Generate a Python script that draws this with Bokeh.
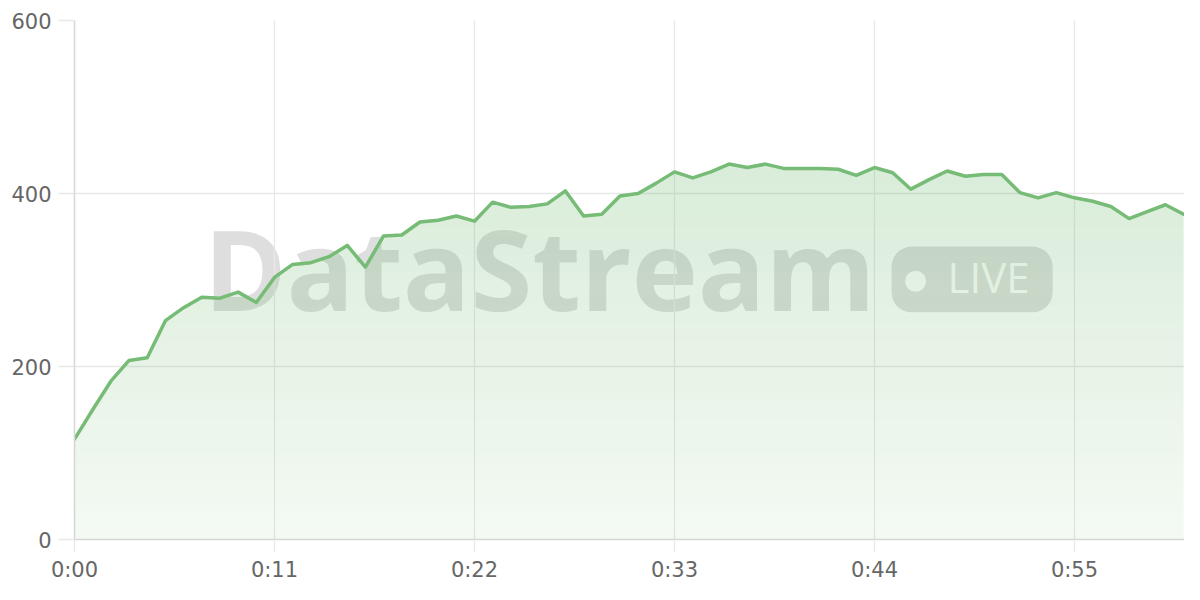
import numpy as np
from bokeh.plotting import figure
from bokeh.models import Range1d, FixedTicker, Label, BoxAnnotation
from bokeh.embed import file_html
from bokeh.resources import INLINE

# one sample per second
seconds = list(range(62))
viewers = [116, 150, 183, 207, 210, 253, 268, 280, 279, 286, 274, 303, 318, 320, 327, 340, 315, 351, 352, 367, 369, 374,
           368, 390, 384, 385, 388, 403, 374, 376, 397, 400, 412, 425, 418, 425, 434, 430, 434, 429, 429, 429,
           428, 421, 430, 424, 405, 416, 426, 420, 422, 422, 401, 395, 401, 395, 391, 385, 371, 379, 387, 376]

x_ticks = [0, 11, 22, 33, 44, 55]
x_labels = ["0:00", "0:11", "0:22", "0:33", "0:44", "0:55"]
y_ticks = [0, 200, 400, 600]

GREEN = "#76bc76"
GRID = "#e8e8e8"
TICK_FONT = "DejaVu Sans"

p = figure(
    width=1184, height=584,
    x_range=Range1d(0, 61.05), y_range=Range1d(0, 600),
    output_backend="svg", toolbar_location=None,
    min_border_left=74, min_border_top=20, min_border_bottom=43, min_border_right=0,
)
p.outline_line_color = None

# watermark, drawn underneath everything
wm = Label(x=25.58, y=314, text="DataStream", text_align="center", text_baseline="alphabetic",
           text_font="Open Sans", text_font_style="bold", text_font_size="112px",
           text_color="#dedede", level="image")
p.add_layout(wm)
pill = BoxAnnotation(left=44.94, right=53.8, bottom=262.6, top=338.6, fill_color="#dedede", fill_alpha=1.0,
                     line_color=None, border_radius=20, level="image")
p.add_layout(pill)
dot = p.scatter([46.26], [298.6], size=21, marker="circle", fill_color="white", line_color=None)
dot.level = "underlay"
live = Label(x=50.27, y=304.4, text="LIVE", text_align="center", text_baseline="alphabetic",
             text_font="Open Sans", text_font_size="42px", text_color="white", level="image")
p.add_layout(live)

# gradient fill under the line, built from horizontal bands
vals = np.array(viewers, dtype=float)
levels = np.linspace(0, 440, 45)
for lo, hi in zip(levels[:-1], levels[1:]):
    a = 0.08 + 0.19 * ((lo + hi) / 2) / 420
    p.varea(x=seconds, y1=np.minimum(vals, lo), y2=np.minimum(vals, hi),
            fill_color=GREEN, fill_alpha=a)

p.line(seconds, viewers, line_color=GREEN, line_width=3.5, line_join="round", line_cap="round")

# grid
p.xgrid.ticker = FixedTicker(ticks=x_ticks)
p.ygrid.ticker = FixedTicker(ticks=y_ticks)
p.grid.grid_line_color = GRID
p.grid.grid_line_width = 1.3

# axes
p.xaxis.ticker = FixedTicker(ticks=x_ticks)
p.xaxis.major_label_overrides = dict(zip(x_ticks, x_labels))
p.yaxis.ticker = FixedTicker(ticks=y_ticks)
p.axis.minor_tick_line_color = None
p.axis.major_tick_in = 0
p.xaxis.major_tick_out = 13
p.yaxis.major_tick_out = 16
p.axis.major_tick_line_color = GRID
p.axis.major_tick_line_width = 1.3
p.axis.axis_line_color = "#d6d6d6"
p.axis.axis_line_width = 1.5
p.axis.major_label_text_font = TICK_FONT
p.axis.major_label_text_font_size = "21px"
p.axis.major_label_text_color = "#666666"
p.xaxis.major_label_standoff = 5
p.yaxis.major_label_standoff = 7

open("out.html", "w").write(file_html(p, INLINE))
